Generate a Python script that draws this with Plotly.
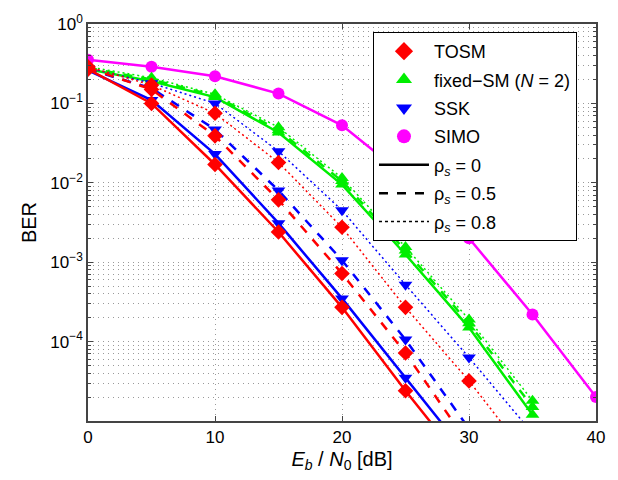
import plotly.graph_objects as go

ebn0 = [0, 5, 10, 15, 20, 25, 30, 35, 40]

# BER values (rho_s = 0, 0.5, 0.8)
tosm_r0 = [0.27, 0.10, 0.017, 2.4e-3, 2.7e-4, 2.4e-5, 2.4e-6, None, None]
tosm_r05 = [0.28, 0.15, 0.039, 6.1e-3, 7.2e-4, 7.2e-5, 5e-6, None, None]
tosm_r08 = [0.29, 0.17, 0.075, 0.018, 2.75e-3, 2.7e-4, 3.2e-5, 3e-6, None]

ssk_r0 = [0.26, 0.11, 0.023, 3.1e-3, 3.5e-4, 3.5e-5, 3.5e-6, None, None]
ssk_r05 = [0.27, 0.155, 0.047, 8.0e-3, 1.06e-3, 1.06e-4, 8e-6, None, None]
ssk_r08 = [0.28, 0.18, 0.10, 0.025, 4.5e-3, 5.2e-4, 6.3e-5, 7e-6, None]

fsm_r0 = [0.27, 0.19, 0.12, 0.043, 0.0095, 1.25e-3, 1.5e-4, 1.2e-5, None]
fsm_r05 = [0.28, 0.20, 0.125, 0.046, 0.0105, 1.4e-3, 1.7e-4, 1.5e-5, None]
fsm_r08 = [0.29, 0.21, 0.13, 0.050, 0.0115, 1.55e-3, 1.9e-4, 1.8e-5, None]

simo = [0.355, 0.29, 0.22, 0.133, 0.053, 0.012, 2.0e-3, 2.2e-4, 2.0e-5]

ytick_vals = [1e-4, 1e-3, 1e-2, 1e-1, 1]
ytick_text = ["10<sup>−4</sup>", "10<sup>−3</sup>", "10<sup>−2</sup>", "10<sup>−1</sup>", "10<sup>0</sup>"]
xtick_vals = [0, 10, 20, 30, 40]

RED, GREEN, BLUE, MAG = "#ff0000", "#00ee00", "#0000ff", "#ff00ff"
GRID = "#9a9a9a"
GDASH = "1px,4px"

fig = go.Figure()

def add(y, color, dash, symbol, width):
    fig.add_trace(go.Scatter(
        x=ebn0, y=y, mode="lines+markers", showlegend=False,
        line=dict(color=color, dash=dash, width=width),
        marker=dict(symbol=symbol, size=12, color=color),
    ))

for ys, col, sym in [
    ((simo, None, None), MAG, "circle"),
    ((fsm_r0, fsm_r05, fsm_r08), GREEN, "triangle-up"),
    ((ssk_r0, ssk_r05, ssk_r08), BLUE, "triangle-down"),
    ((tosm_r0, tosm_r05, tosm_r08), RED, "diamond"),
]:
    for y, dash, w in zip(ys, ["solid", "dash", "2px,3px"], [2.5, 2.5, 1.5]):
        if y is not None:
            add(y, col, dash, sym, w)

leg_items = [
    ("TOSM", "markers", RED, "diamond", None),
    ("fixed−SM (<i>N</i> = 2)", "markers", GREEN, "triangle-up", None),
    ("SSK", "markers", BLUE, "triangle-down", None),
    ("SIMO", "markers", MAG, "circle", None),
    ("ρ<sub><i>s</i></sub> = 0", "lines", "black", None, "solid"),
    ("ρ<sub><i>s</i></sub> = 0.5", "lines", "black", None, "dash"),
    ("ρ<sub><i>s</i></sub> = 0.8", "lines", "black", None, "dot"),
]
for i, (name, mode, col, sym, dash) in enumerate(leg_items):
    kw = dict(x=[None], y=[None], name=name, mode=mode, legendgroup=f"g{i}")
    if mode == "markers":
        kw["marker"] = dict(symbol=sym, size=14, color=col)
    else:
        kw["line"] = dict(color=col, dash=dash, width=2.5 if dash != "dot" else 1.5)
    fig.add_trace(go.Scatter(**kw))

minor_vals = [m * 10.0 ** e for e in range(-5, 0) for m in range(2, 10)]

fig.update_layout(
    width=618, height=480,
    margin=dict(l=88, r=22, t=22, b=59),
    paper_bgcolor="white", plot_bgcolor="white",
    font=dict(family="Liberation Sans, Arial, sans-serif", size=17, color="black"),
    legend=dict(
        x=0.561, y=0.98, xanchor="left", yanchor="top",
        bgcolor="white", bordercolor="black", borderwidth=1,
        traceorder="grouped", tracegroupgap=2, itemwidth=50,
        font=dict(size=18),
    ),
    xaxis=dict(
        range=[0, 40], tickvals=xtick_vals, ticks="inside", ticklen=5,
        showline=True, linecolor="#444", linewidth=1.5, mirror="ticks",
        showgrid=True, gridcolor=GRID, griddash=GDASH, gridwidth=1,
        zeroline=False,
        title=dict(text="<i>E</i><sub><i>b</i></sub> / <i>N</i><sub>0</sub> [dB]", standoff=6),
    ),
    yaxis=dict(
        type="log", range=[-5, 0], tickvals=ytick_vals, ticktext=ytick_text,
        ticks="inside", ticklen=5,
        showline=True, linecolor="#444", linewidth=1.5, mirror="ticks",
        showgrid=True, gridcolor=GRID, griddash=GDASH, gridwidth=1,
        minor=dict(tickvals=minor_vals, ticks="inside", ticklen=3,
                   showgrid=True, gridcolor=GRID, griddash=GDASH, gridwidth=1),
        zeroline=False,
        title=dict(text="BER", standoff=8),
    ),
)

fig.write_html("out.html")
